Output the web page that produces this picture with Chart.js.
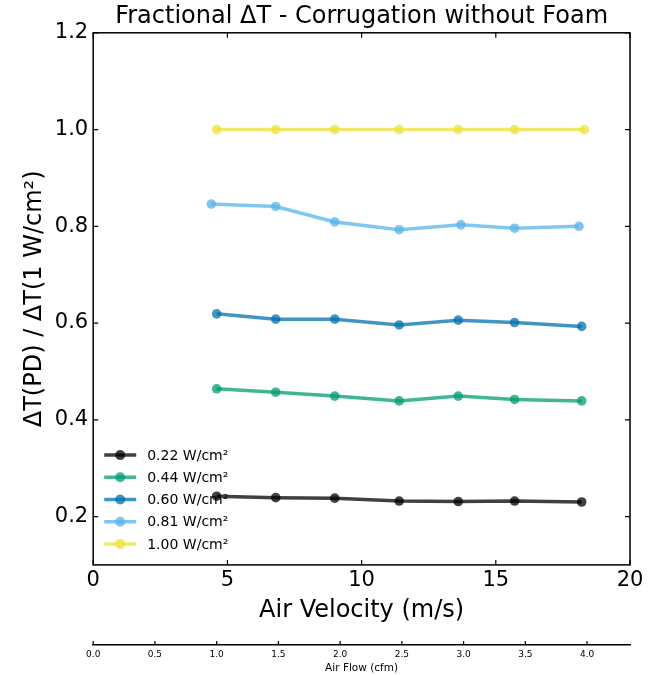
<!DOCTYPE html>
<html>
<head>
<meta charset="utf-8">
<script src="https://cdn.jsdelivr.net/npm/chart.js@4.4.1/dist/chart.umd.min.js"></script>
<style>
    html, body { margin: 0; padding: 0; background: #fff; }
    #wrap { width: 654px; height: 675px; }
</style>
</head>
<body>
<div id="wrap"><canvas id="flow_Chart" width="654" height="675"></canvas></div>
<script>
// air velocity (m/s) for each run
var velocity = [4.6, 6.8, 9.0, 11.4, 13.6, 15.7, 18.2]
var velocity081 = [4.4, 6.8, 9.0, 11.4, 13.7, 15.7, 18.1]
var velocity100 = [4.6, 6.8, 9.0, 11.4, 13.6, 15.7, 18.3]

// fractional delta T per power density
var frac022 = [0.242, 0.239, 0.238, 0.232, 0.231, 0.232, 0.230]
var frac044 = [0.464, 0.457, 0.449, 0.439, 0.449, 0.442, 0.439]
var frac060 = [0.619, 0.608, 0.608, 0.596, 0.606, 0.601, 0.593]
var frac081 = [0.846, 0.841, 0.809, 0.793, 0.803, 0.796, 0.800]
var frac100 = [1.0, 1.0, 1.0, 1.0, 1.0, 1.0, 1.0]

var seriesLabels = ['0.22 W/cm²', '0.44 W/cm²', '0.60 W/cm²', '0.81 W/cm²', '1.00 W/cm²']
var seriesColors = [
    'rgba(0, 0, 0, 0.75)',
    'rgba(0, 158, 115, 0.75)',
    'rgba(0, 114, 178, 0.75)',
    'rgba(86, 180, 233, 0.75)',
    'rgba(240, 228, 66, 0.8)'
]

var velocityTicks = [0, 5, 10, 15, 20]
var fracTicks = [0.2, 0.4, 0.6, 0.8, 1.0, 1.2]
var cfmTicks = [0.0, 0.5, 1.0, 1.5, 2.0, 2.5, 3.0, 3.5, 4.0]

var FONT = "'DejaVu Sans', sans-serif"
var ctx = document.getElementById('flow_Chart');

function toPoints(xs, ys) {
    var pts = []
    xs.forEach(function (x, i) {
        pts.push({ x: x, y: ys[i] })
    })
    return pts
}

var xSeries = [velocity, velocity, velocity, velocity081, velocity100]
var ySeries = [frac022, frac044, frac060, frac081, frac100]

var datasets = seriesLabels.map(function (label, i) {
    return {
        label: label,
        data: toPoints(xSeries[i], ySeries[i]),
        borderColor: seriesColors[i],
        backgroundColor: seriesColors[i],
        borderWidth: 3.5,
        pointRadius: 4.8,
        pointBorderWidth: 0,
        pointHoverRadius: 4.8,
        tension: 0
    }
})

// matplotlib-ish frame, inward ticks and legend drawn over the chart area
var framePlugin = {
    id: 'frame',
    beforeDatasetsDraw: function (chart) {
        var c = chart.ctx
        var area = chart.chartArea
        // legend in lower left
        c.save()
        c.font = '14px ' + FONT
        c.textBaseline = 'middle'
        c.textAlign = 'left'
        var n = seriesLabels.length
        for (var i = 0; i < n; i++) {
            var y = area.bottom - 21 - (n - 1 - i) * 22.2
            var x0 = area.left + 11
            c.strokeStyle = seriesColors[i]
            c.lineWidth = 3.5
            c.beginPath()
            c.moveTo(x0, y)
            c.lineTo(x0 + 32, y)
            c.stroke()
            c.fillStyle = seriesColors[i]
            c.beginPath()
            c.arc(x0 + 16, y, 5, 0, Math.PI * 2)
            c.fill()
            c.fillStyle = '#000'
            c.fillText(seriesLabels[i], x0 + 43, y + 1)
        }
        c.restore()
    },
    afterDraw: function (chart) {
        var c = chart.ctx
        var area = chart.chartArea
        var xs = chart.scales.x
        var ys = chart.scales.y
        var x2 = chart.scales.x2
        c.save()
        c.strokeStyle = '#000'
        c.lineWidth = 1.5
        c.strokeRect(area.left, area.top, area.right - area.left, area.bottom - area.top)
        c.lineWidth = 1.2
        c.beginPath()
        velocityTicks.forEach(function (v) {
            var px = xs.getPixelForValue(v)
            c.moveTo(px, area.bottom); c.lineTo(px, area.bottom - 5)
            c.moveTo(px, area.top); c.lineTo(px, area.top + 5)
        })
        fracTicks.forEach(function (v) {
            var py = ys.getPixelForValue(v)
            c.moveTo(area.left, py); c.lineTo(area.left + 5, py)
            c.moveTo(area.right, py); c.lineTo(area.right - 5, py)
        })
        cfmTicks.forEach(function (v) {
            var px = x2.getPixelForValue(v)
            c.moveTo(px, x2.top); c.lineTo(px, x2.top - 4)
        })
        c.stroke()
        c.restore()
    }
}

var myChart = new Chart(ctx, {
    type: 'line',
    data: { datasets: datasets },
    plugins: [framePlugin],
    options: {
        responsive: false,
        animation: false,
        layout: {
            padding: { left: 7, right: 24, top: 0, bottom: 0 }
        },
        scales: {
            x: {
                type: 'linear',
                position: 'bottom',
                weight: 0,
                min: 0,
                max: 20,
                afterBuildTicks: function (scale) {
                    scale.ticks = velocityTicks.map(function (v) { return { value: v } })
                },
                grid: { display: false, drawTicks: false },
                border: { display: false },
                ticks: {
                    color: '#000',
                    padding: 3,
                    maxRotation: 0,
                    font: { size: 21, family: FONT }
                },
                title: {
                    display: true,
                    text: 'Air Velocity (m/s)',
                    color: '#000',
                    font: { size: 24, family: FONT },
                    padding: { top: 0, bottom: 20 }
                }
            },
            x2: {
                type: 'linear',
                position: 'bottom',
                weight: 1,
                min: 0,
                max: 20 / 4.6,
                afterBuildTicks: function (scale) {
                    scale.ticks = cfmTicks.map(function (v) { return { value: v } })
                },
                grid: { display: false, drawTicks: false },
                border: { display: true, color: '#000', width: 1.5 },
                ticks: {
                    color: '#000',
                    padding: 3,
                    maxRotation: 0,
                    font: { size: 9, family: FONT, lineHeight: 1.4 },
                    callback: function (v) { return Number(v).toFixed(1) }
                },
                title: {
                    display: true,
                    text: 'Air Flow (cfm)',
                    color: '#000',
                    font: { size: 10.5, family: FONT, lineHeight: 1.0 },
                    padding: { top: 0, bottom: 1 }
                }
            },
            y: {
                type: 'linear',
                min: 0.1,
                max: 1.2,
                afterBuildTicks: function (scale) {
                    scale.ticks = fracTicks.map(function (v) { return { value: v } })
                },
                grid: { display: false, drawTicks: false },
                border: { display: false },
                ticks: {
                    color: '#000',
                    padding: 5,
                    font: { size: 21, family: FONT },
                    callback: function (v) { return Number(v).toFixed(1) }
                },
                title: {
                    display: true,
                    text: 'ΔT(PD) / ΔT(1 W/cm²)',
                    color: '#000',
                    font: { size: 24, family: FONT },
                    padding: { top: 13, bottom: 1 }
                }
            }
        },
        plugins: {
            legend: { display: false },
            tooltip: { enabled: false },
            title: {
                display: true,
                fullSize: false,
                text: 'Fractional ΔT - Corrugation without Foam',
                color: '#000',
                font: { size: 24, weight: 'normal', family: FONT },
                padding: { top: 2, bottom: 2 }
            }
        }
    }
});
</script>
</body>
</html>
